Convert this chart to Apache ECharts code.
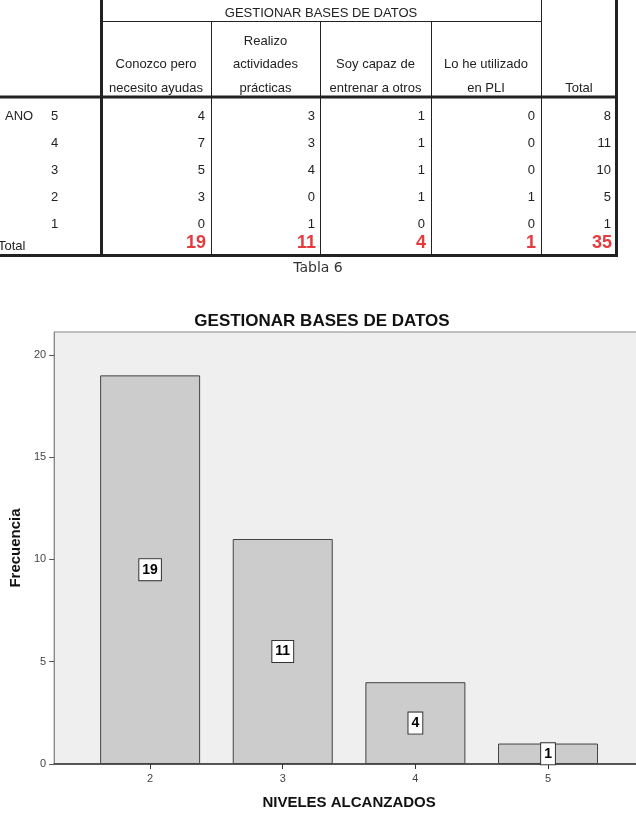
<!DOCTYPE html>
<html>
<head>
<meta charset="utf-8">
<script src="https://cdn.jsdelivr.net/npm/echarts@6.0.0/dist/echarts.min.js"></script>
<style>
  html, body { margin: 0; padding: 0; background: #fff; overflow: hidden; }
  /* un poco mas ancho que la ventana: el grafico sigue por la derecha */
  #main { width: 644px; height: 836px; }
</style>
</head>
<body>
<div id="main"></div>
<script>
// datos de la tabla (Tabla 6)
var anos = ['5', '4', '3', '2', '1']
var conozco = [4, 7, 5, 3, 0]
var realizo = [3, 3, 4, 0, 1]
var capaz = [1, 1, 1, 1, 0]
var utilizado = [0, 0, 0, 1, 0]
var totalFila = [8, 11, 10, 5, 1]
var totalColumna = [19, 11, 4, 1, 35]
var encabezados = [
  ['Conozco pero', 'necesito ayudas'],
  ['Realizo', 'actividades', 'prácticas'],
  ['Soy capaz de', 'entrenar a otros'],
  ['Lo he utilizado', 'en PLI'],
  ['Total']
]

// datos del grafico de barras
var niveles = [2, 3, 4, 5]
var frecuencias = [19, 11, 4, 1]
var ticksY = [0, 5, 10, 15, 20]

// --- tabla dibujada con graphic ---
var fuente = '13px "Liberation Sans", Arial, sans-serif'
var colDerecha = [205, 315, 425, 535, 611]
var colCentro = [156, 265.5, 375.5, 486, 579]
var filaY = [116, 143, 170, 197, 224]
var columnas = [conozco, realizo, capaz, utilizado, totalFila]
var elementos = []

function linea (x1, y1, x2, y2, w) {
  elementos.push({ type: 'line', silent: true, shape: { x1: x1, y1: y1, x2: x2, y2: y2 }, style: { stroke: '#222', lineWidth: w } })
}
function texto (t, x, y, align, font, color) {
  elementos.push({ type: 'text', silent: true, x: x, y: y, style: { text: t, font: font || fuente, fill: color || '#222', align: align, verticalAlign: 'middle' } })
}

linea(101.5, 0, 101.5, 257, 3)
linea(211.5, 21, 211.5, 257, 1)
linea(320.5, 21, 320.5, 257, 1)
linea(431.5, 21, 431.5, 257, 1)
linea(541.5, 0, 541.5, 257, 1)
linea(616.5, 0, 616.5, 257, 3)
linea(101, 21.5, 541, 21.5, 1)
linea(0, 97, 618, 97, 3)
linea(0, 255.5, 618, 255.5, 3)

texto('GESTIONAR BASES DE DATOS', 321, 13, 'center')
encabezados.forEach(function (lineas, c) {
  lineas.forEach(function (l, k) {
    texto(l, colCentro[c], 88 - (lineas.length - 1 - k) * 23.5, 'center')
  })
})

texto('ANO', 5, filaY[0], 'left')
anos.forEach(function (a, r) {
  texto(a, 51, filaY[r], 'left')
  columnas.forEach(function (col, c) {
    texto(String(col[r]), colDerecha[c], filaY[r], 'right')
  })
})
texto('Total', -2, 246, 'left')
totalColumna.forEach(function (v, c) {
  texto(String(v), colDerecha[c] + 1, 243, 'right', 'bold 18px "Liberation Sans", Arial, sans-serif', '#e53a3e')
})

texto('Tabla 6', 318, 268, 'center', '14px "DejaVu Sans", Verdana, sans-serif', '#333')

// --- grafico ---
var datosBarras = niveles.map(function (n, i) { return [n, frecuencias[i]] })

var myChart = echarts.init(document.getElementById('main'))
myChart.setOption({
  animation: false,
  textStyle: { fontFamily: '"Liberation Sans", Arial, sans-serif' },
  graphic: { elements: elementos },
  title: {
    text: 'GESTIONAR BASES DE DATOS',
    left: 'center',
    top: 313,
    padding: 0,
    textStyle: { fontSize: 17, fontWeight: 'bold', color: '#111' }
  },
  grid: {
    left: 54,
    right: 0,
    top: 332,
    height: 432,
    show: true,
    backgroundColor: '#efefef',
    borderColor: '#888',
    borderWidth: 1
  },
  xAxis: {
    type: 'value',
    min: 1.2764,
    max: 5.7236,
    name: 'NIVELES ALCANZADOS',
    nameLocation: 'middle',
    nameGap: 31,
    nameTextStyle: { fontSize: 15, fontWeight: 'bold', color: '#111' },
    splitLine: { show: false },
    axisLine: { show: true, lineStyle: { color: '#333', width: 1.5 } },
    axisTick: { show: true, length: 5, customValues: niveles, lineStyle: { color: '#333' } },
    axisLabel: { customValues: niveles, fontSize: 11, color: '#444', margin: 9 }
  },
  yAxis: {
    type: 'value',
    min: 0,
    max: 21.12,
    name: 'Frecuencia',
    nameLocation: 'middle',
    nameRotate: 90,
    nameGap: 30,
    nameTextStyle: { fontSize: 15, fontWeight: 'bold', color: '#111' },
    splitLine: { show: false },
    axisLine: { show: true, lineStyle: { color: '#888' } },
    axisTick: { show: true, length: 5, customValues: ticksY, lineStyle: { color: '#555' } },
    axisLabel: { customValues: ticksY, fontSize: 11, color: '#444', margin: 8 }
  },
  series: [{
    type: 'bar',
    data: datosBarras,
    barWidth: 100,
    itemStyle: { color: '#cccccc', borderColor: '#444', borderWidth: 1 },
    label: {
      show: true,
      position: 'inside',
      formatter: function (p) { return p.value[1] },
      fontSize: 14,
      fontWeight: 'bold',
      color: '#000',
      backgroundColor: '#fff',
      borderColor: '#333',
      borderWidth: 1,
      padding: [4, 3, 3, 3]
    }
  }]
})
</script>
</body>
</html>
